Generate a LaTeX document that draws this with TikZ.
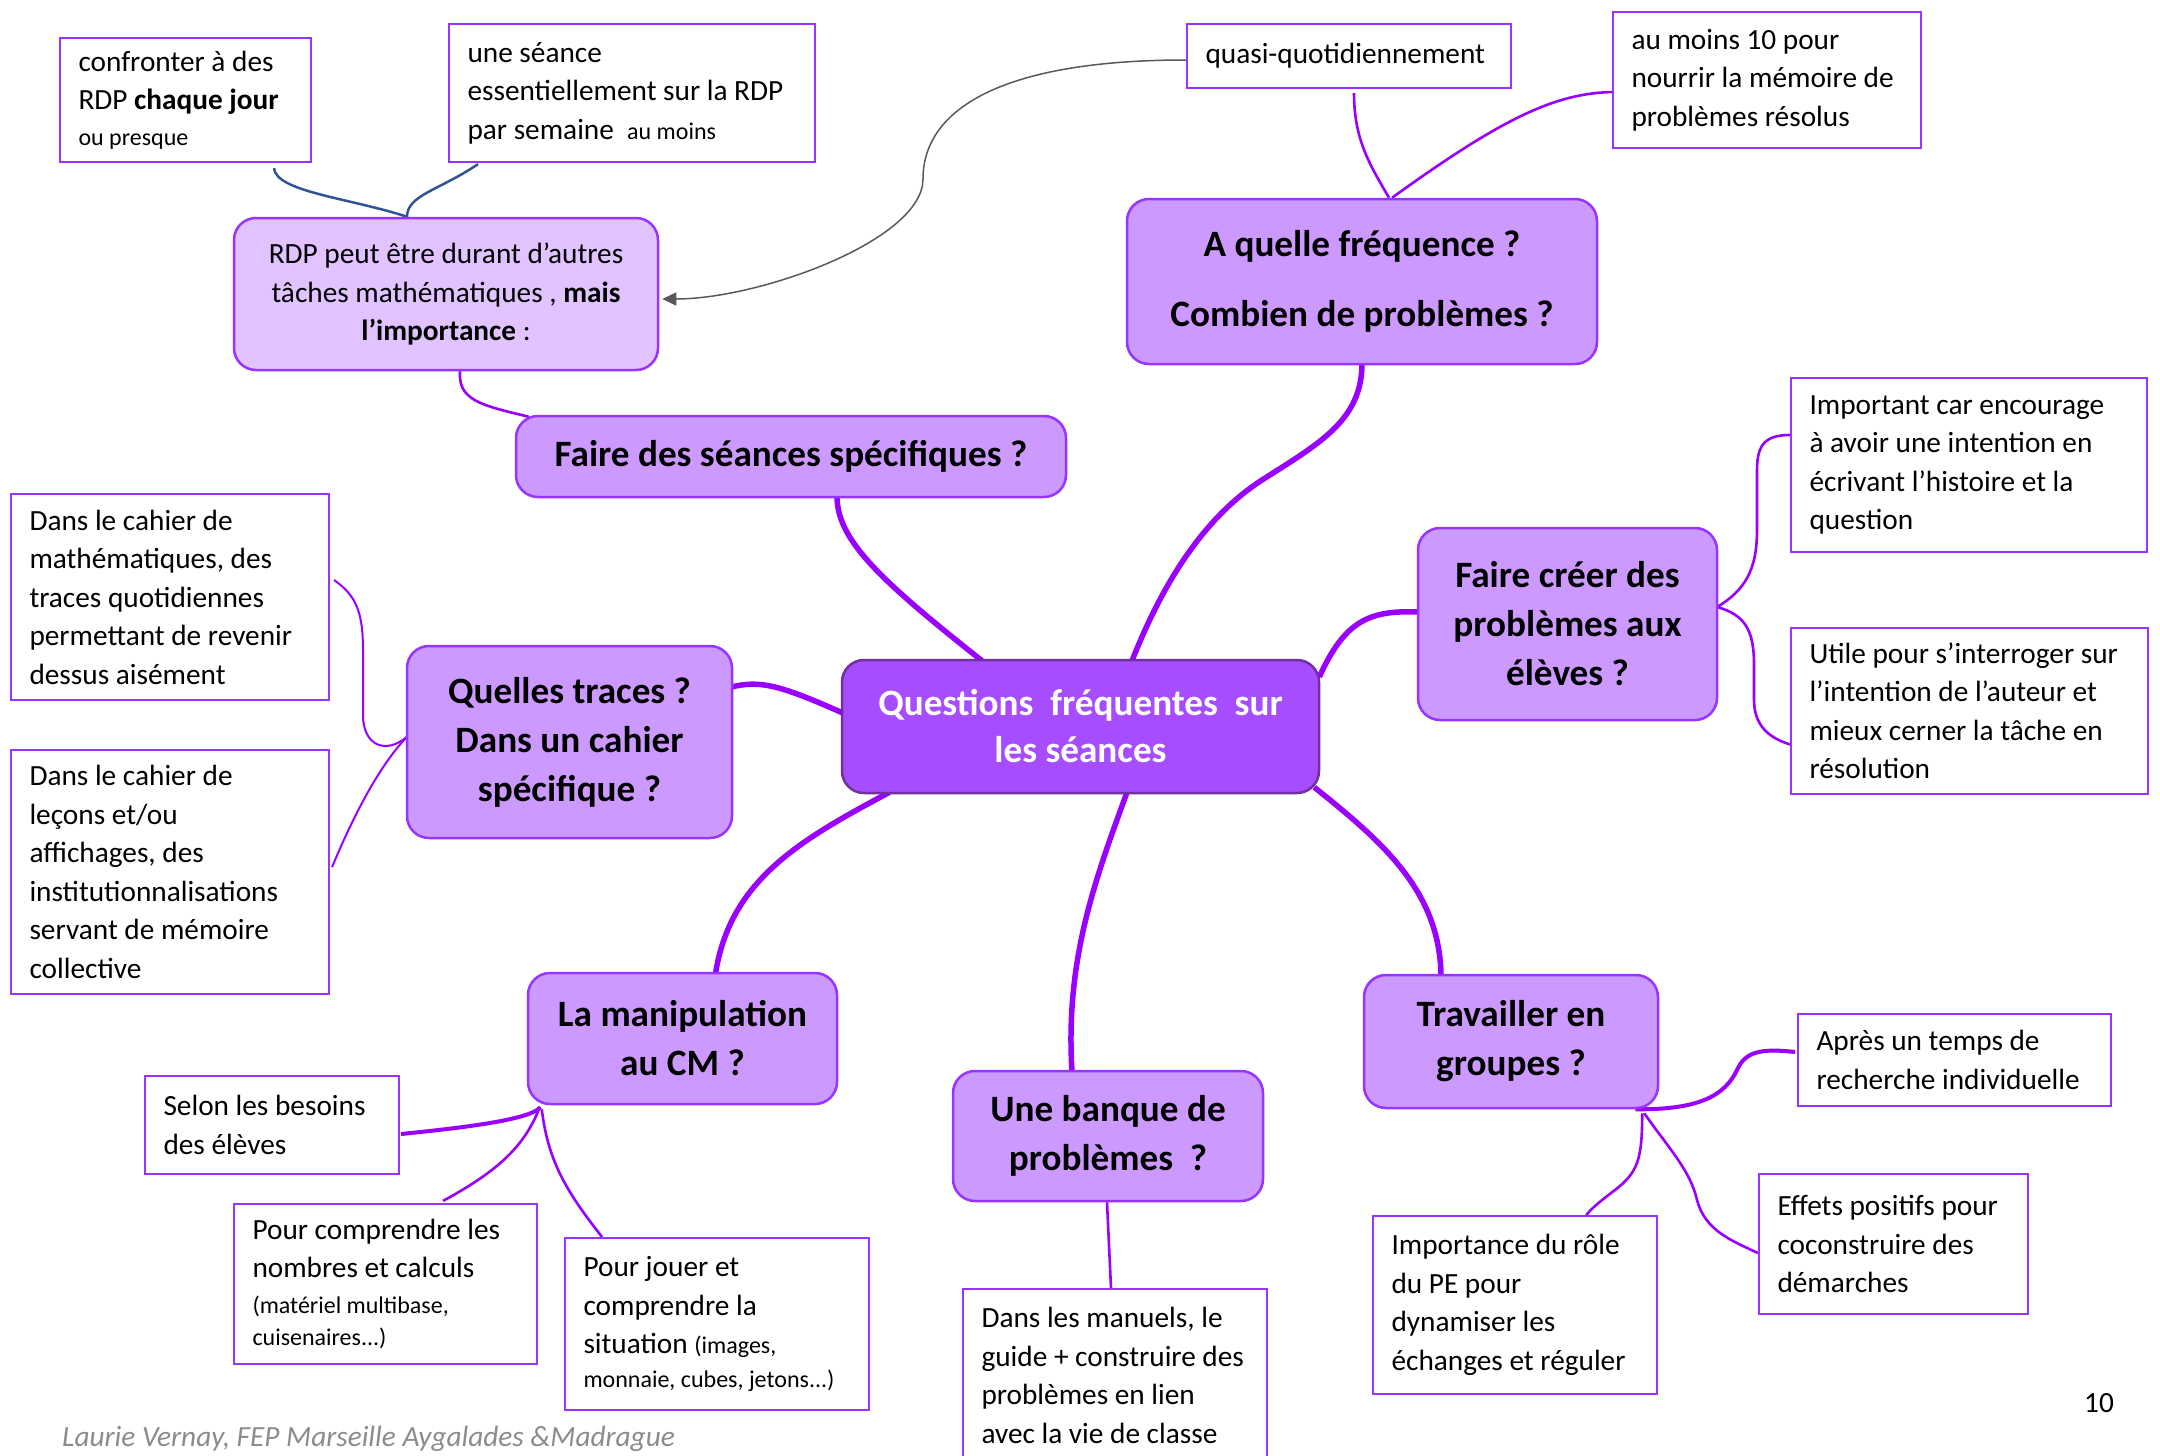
\documentclass[tikz,border=0pt]{standalone}
\usepackage{fontspec}
\setmainfont{Carlito}
\usetikzlibrary{arrows.meta,backgrounds}

\definecolor{boxc}{HTML}{9933FF}
\definecolor{topicfill}{HTML}{CC99FF}
\definecolor{softfill}{HTML}{E1C4FF}
\definecolor{hubfill}{HTML}{A64DFF}
\definecolor{hubedge}{HTML}{7030A0}
\definecolor{linec}{HTML}{9900FF}
\definecolor{bluec}{HTML}{2F5597}
\definecolor{grayc}{HTML}{595959}
\definecolor{footc}{HTML}{8C8C8C}

\newcommand\mmbody{\fontsize{29.3}{38.5}\selectfont}
\newcommand\mmsmall{\fontsize{24}{30}\selectfont}
\newcommand\mmhead{\fontsize{37.2}{49}\selectfont\bfseries}

\begin{document}
\begin{tikzpicture}[x=1pt,y=-1pt,
  leaf/.style={draw=boxc, line width=2.2pt, fill=white, rectangle,
    inner xsep=18.5pt, inner ysep=0pt, align=flush left, font=\mmbody},
  topic/.style={draw=boxc, line width=2.5pt, fill=topicfill,
    rounded corners=22pt, inner sep=0pt, align=center, font=\mmhead},
  soft/.style={draw=boxc, line width=2.5pt, fill=softfill,
    rounded corners=22pt, inner sep=0pt, align=center, font=\mmbody},
  hub/.style={draw=hubedge, line width=2.5pt, fill=hubfill, text=white,
    rounded corners=22pt, inner sep=0pt, align=center, font=\mmhead},
  trunk/.style={draw=linec, line width=5.5pt},
  midtwig/.style={draw=linec, line width=4pt},
  twig/.style={draw=linec, line width=2.6pt},
  thintwig/.style={draw=linec, line width=2pt},
  bluetwig/.style={draw=bluec, line width=2.5pt},
  crossref/.style={draw=grayc, line width=1.5pt,
    -{Triangle[length=14pt,width=13pt]}}
]
\useasboundingbox (0,0) rectangle (2160,1456);

% ---- central topic
\node[hub, minimum width=477pt, minimum height=133pt] (hub) at (1080.5,726.5)
  {Questions\ \ fréquentes\ \ sur\\[-2pt]les séances};

% ---- séances spécifiques
\node[topic, minimum width=550pt, minimum height=81pt] (seances) at (791,456.5)
  {Faire des séances spécifiques ?};
\node[soft, minimum width=424pt, minimum height=152pt] (rdp) at (446,294)
  {RDP peut être durant d’autres\\tâches mathématiques , \textbf{mais}\\\textbf{l’importance} :};
\node[leaf, text width=214pt, minimum height=124pt] (conf) at (185.5,100)
  {confronter à des\\RDP \textbf{chaque jour}\\[-3pt]{\mmsmall ou presque}};
\node[leaf, text width=329pt, minimum height=138pt] (seance) at (632,93)
  {une séance\\essentiellement sur la RDP\\par semaine\ \ {\mmsmall au moins}};

% ---- fréquence
\node[topic, minimum width=470pt, minimum height=165pt] (freq) at (1362,281.5)
  {A quelle fréquence ?\\[21pt]Combien de problèmes ?};
\node[leaf, text width=287pt, minimum height=64pt] (quasi) at (1349,56)
  {quasi-quotidiennement};
\node[leaf, text width=271pt, minimum height=136pt] (aumoins) at (1767,80)
  {au moins 10 pour\\nourrir la mémoire de\\problèmes résolus};

% ---- traces
\node[topic, minimum width=325pt, minimum height=192pt] (traces) at (569.5,742)
  {Quelles traces ?\\Dans un cahier\\spécifique ?};
\node[leaf, text width=281pt, minimum height=206pt] (cahmath) at (170,597)
  {Dans le cahier de\\mathématiques, des\\traces quotidiennes\\permettant de revenir\\dessus aisément};
\node[leaf, text width=281pt, minimum height=244pt] (cahlec) at (170,872)
  {Dans le cahier de\\leçons et/ou\\affichages, des\\institutionnalisations\\servant de mémoire\\collective};

% ---- création de problèmes
\node[topic, minimum width=299pt, minimum height=192pt] (creer) at (1567.5,624)
  {Faire créer des\\problèmes aux\\élèves ?};
\node[leaf, text width=319pt, minimum height=174pt] (important) at (1969,465)
  {Important car encourage\\à avoir une intention en\\écrivant l’histoire et la\\question};
\node[leaf, text width=320pt, minimum height=166pt] (utile) at (1969.5,711)
  {Utile pour s’interroger sur\\l’intention de l’auteur et\\mieux cerner la tâche en\\résolution};

% ---- banque
\node[topic, minimum width=310pt, minimum height=130pt] (banque) at (1108,1136)
  {Une banque de\\problèmes\ \ ?};
\node[leaf, text width=267pt, minimum height=173pt] (manuels) at (1115,1375.5)
  {Dans les manuels, le\\guide + construire des\\problèmes en lien\\avec la vie de classe};

% ---- manipulation
\node[topic, minimum width=309pt, minimum height=131pt] (manip) at (682.5,1038.5)
  {La manipulation\\au CM ?};
\node[leaf, text width=217pt, minimum height=98pt] (selon) at (272,1125)
  {Selon les besoins\\des élèves};
\node[leaf, text width=266pt, minimum height=160pt] (pcomp) at (385.5,1284)
  {Pour comprendre les\\nombres et calculs\\[-3pt]{\mmsmall (matériel multibase,}\\[-6pt]{\mmsmall cuisenaires...)}};
\node[leaf, text width=267pt, minimum height=172pt] (pjouer) at (717,1324)
  {Pour jouer et\\comprendre la\\situation {\mmsmall (images,}\\[-5pt]{\mmsmall monnaie, cubes, jetons...)}};

% ---- travail en groupes
\node[topic, minimum width=294pt, minimum height=133pt] (travail) at (1511,1041.5)
  {Travailler en\\groupes ?};
\node[leaf, text width=276pt, minimum height=92pt] (apres) at (1954.5,1060)
  {Après un temps de\\recherche individuelle};
\node[leaf, text width=232pt, minimum height=140pt] (effets) at (1893.5,1244)
  {Effets positifs pour\\coconstruire des\\démarches};
\node[leaf, text width=247pt, minimum height=178pt] (importance) at (1515,1305)
  {Importance du rôle\\du PE pour\\dynamiser les\\échanges et réguler};

% ---- page furniture
\node[font=\mmbody, inner sep=0pt] (pagenum) at (2099,1403) {10};
\node[font=\mmbody\itshape, text=footc, inner sep=0pt, anchor=west] (credit) at (62,1439)
  {Laurie Vernay, FEP Marseille Aygalades \&Madrague};

\begin{pgfonlayer}{background}
\fill[white] (0,0) rectangle (2160,1456);

% main branches
\draw[trunk] ([shift={(51.5,2)}]hub.north) .. controls (1160,590) and (1200,520) .. (1262,480)
  .. controls (1320,443) and (1362,420) .. ([shift={(0,-2)}]freq.south);
\draw[trunk] ([shift={(-98.5,2)}]hub.north) .. controls (880,580) and (837,540) .. ([shift={(46,-2)}]seances.south);
\draw[trunk] ([shift={(2,-13.5)}]hub.west) .. controls (780,685) and (760,680) .. ([shift={(-2,-55)}]traces.east);
\draw[trunk] ([shift={(-191,-2)}]hub.south) .. controls (800,840) and (730,880) .. ([shift={(33,2)}]manip.north);
\draw[trunk] ([shift={(46.5,-2)}]hub.south) .. controls (1095,880) and (1065,960) .. ([shift={(-36,2)}]banque.north);
\draw[trunk] ([shift={(-6,-7)}]hub.south east) .. controls (1380,840) and (1440,890) .. ([shift={(-70,2)}]travail.north);
\draw[trunk] ([shift={(-1,-49.5)}]hub.east) .. controls (1345,620) and (1370,610) .. ([shift={(2,-12)}]creer.west);

% séances spécifiques
\draw[twig] ([shift={(14,0)}]rdp.south) .. controls (458,400) and (480,405) .. ([shift={(14,2)}]seances.north west);
\draw[bluetwig] ([shift={(88.5,5)}]conf.south) .. controls (276,192) and (350,198) .. ([shift={(-39,0)}]rdp.north);
\draw[bluetwig] ([shift={(-154,1)}]seance.south) .. controls (440,190) and (407,195) .. ([shift={(-39,0)}]rdp.north);
\draw[crossref] ([shift={(0,4)}]quasi.west) .. controls (1000,60) and (923,110) .. (923,179)
  .. controls (923,240) and (760,299) .. ([shift={(3,5)}]rdp.east);

% fréquence
\draw[twig] ([shift={(5,4)}]quasi.south) .. controls (1354,140) and (1370,165) .. ([shift={(27,0)}]freq.north);
\draw[twig] ([shift={(4,12)}]aumoins.west) .. controls (1555,92) and (1500,120) .. ([shift={(30,0)}]freq.north);

% création de problèmes
\draw[twig] ([shift={(-1,-17)}]creer.east) .. controls (1745,590) and (1757,570) .. (1757,530)
  -- (1757,470) .. controls (1757,445) and (1765,435) .. ([shift={(0,-30)}]important.west);
\draw[twig] ([shift={(-1,-17)}]creer.east) .. controls (1745,615) and (1754,630) .. (1754,665)
  -- (1754,700) .. controls (1754,730) and (1775,740) .. ([shift={(2,34)}]utile.west);

% traces
\draw[thintwig] ([shift={(1,-5)}]traces.west) .. controls (385,755) and (363,745) .. (363,715)
  -- (363,650) .. controls (363,610) and (355,595) .. ([shift={(4,-17)}]cahmath.east);
\draw[thintwig] ([shift={(1,-5)}]traces.west) .. controls (385,760) and (360,800) .. ([shift={(2,-5)}]cahlec.east);

% banque
\draw[twig] ([shift={(-1,0)}]banque.south) -- ([shift={(-4,0)}]manuels.north);

% manipulation
\draw[midtwig] ([shift={(13.6,2)}]manip.south west) .. controls (530,1120) and (460,1128) .. ([shift={(1,9)}]selon.east);
\draw[twig] ([shift={(13,2)}]manip.south west) .. controls (525,1145) and (500,1170) .. ([shift={(57.5,-2)}]pcomp.north);
\draw[twig] ([shift={(15,4)}]manip.south west) .. controls (548,1160) and (565,1190) .. ([shift={(-115,0)}]pjouer.north);

% travail en groupes
\draw[midtwig] ([shift={(-24,0)}]travail.south east) .. controls (1700,1110) and (1725,1095) .. (1737,1070)
  .. controls (1745,1052) and (1760,1048) .. ([shift={(-2,-8)}]apres.west);
\draw[twig] ([shift={(-17,4)}]travail.south east) .. controls (1642,1160) and (1638,1172) .. (1615,1190)
  .. controls (1595,1205) and (1588,1212) .. ([shift={(71,1)}]importance.north);
\draw[twig] ([shift={(-15,4)}]travail.south east) .. controls (1670,1150) and (1690,1170) .. (1697,1200)
  .. controls (1705,1230) and (1730,1240) .. ([shift={(0,9)}]effets.west);
\end{pgfonlayer}
\end{tikzpicture}
\end{document}
